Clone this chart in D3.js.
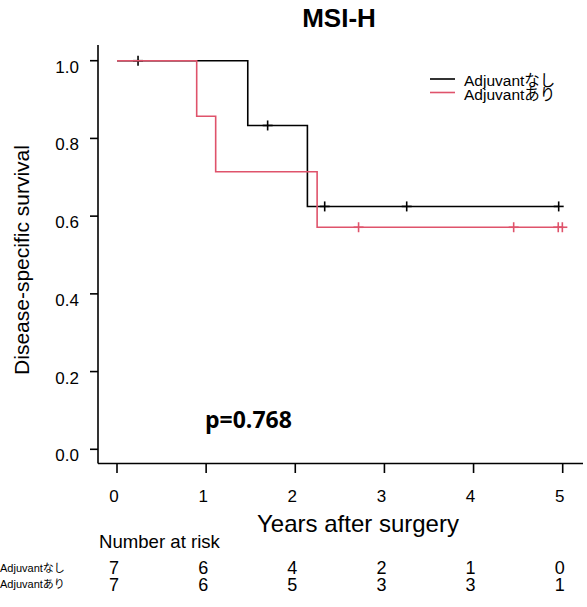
<!DOCTYPE html>
<html>
<head>
<meta charset="utf-8">
<script src="https://cdn.jsdelivr.net/npm/d3@7"></script>
<style>
  body { margin: 0; background: #fff; }
  svg { display: block; }
  text { font-family: "Liberation Sans", Arial, "Noto Sans CJK JP", sans-serif; fill: #000; }
</style>
</head>
<body>
<svg id="chart" width="587" height="607"></svg>
<script>
// groups
const groups = ["Adjuvantなし", "Adjuvantあり"];
const colors = ["#000000", "#DF536B"];

// follow-up times (years) and status (1 = death, 0 = censored)
const timesNashi = [0.236, 1.467, 1.69, 2.136, 2.33, 3.25, 4.955];
const statusNashi = [0, 1, 0, 1, 0, 0, 0];
const timesAri = [0.894, 1.107, 2.245, 2.71, 4.45, 4.95, 4.996];
const statusAri = [1, 1, 1, 0, 0, 0, 0];

// axis ticks
const xTicks = [0, 1, 2, 3, 4, 5];
const yTicks = [0, 0.2, 0.4, 0.6, 0.8, 1.0];

// number at risk
const riskNashi = [7, 6, 4, 2, 1, 0];
const riskAri = [7, 6, 5, 3, 3, 1];

const pText = "p=0.768";

const svg = d3.select("#chart");

const x = d3.scaleLinear().domain([0, 5]).range([117, 562.7]);
const y = d3.scaleLinear().domain([0, 1]).range([449.3, 60.7]);

// Kaplan-Meier estimate
function km(times, status) {
  const n = times.length;
  let s = 1, atRisk = n;
  const steps = [{ t: 0, s: 1 }];
  const cens = [];
  const idx = d3.range(n).sort((a, b) => times[a] - times[b]);
  idx.forEach(i => {
    if (status[i] === 1) {
      s = s * (atRisk - 1) / atRisk;
      steps.push({ t: times[i], s: s });
    } else {
      cens.push({ t: times[i], s: s });
    }
    atRisk--;
  });
  steps.push({ t: d3.max(times), s: s });
  return { steps, cens };
}

const fits = [km(timesNashi, statusNashi), km(timesAri, statusAri)];

// frame (bty = "l")
svg.append("line")
  .attr("x1", 98).attr("x2", 98).attr("y1", 45).attr("y2", 463.5)
  .attr("stroke", "#000").attr("stroke-width", 1.6);
svg.append("line")
  .attr("x1", 98).attr("x2", 583).attr("y1", 463.5).attr("y2", 463.5)
  .attr("stroke", "#000").attr("stroke-width", 1.6);

// y axis
const yAxis = svg.append("g").attr("class", "y axis");
yTicks.forEach(v => {
  yAxis.append("line")
    .attr("x1", 90).attr("x2", 98).attr("y1", y(v)).attr("y2", y(v))
    .attr("stroke", "#000").attr("stroke-width", 1.6);
  yAxis.append("text")
    .attr("x", 79).attr("y", y(v) + 12)
    .attr("text-anchor", "end")
    .style("font-size", "17px")
    .text(v.toFixed(1));
});

// x axis
const xAxis = svg.append("g").attr("class", "x axis");
xTicks.forEach(v => {
  xAxis.append("line")
    .attr("x1", x(v)).attr("x2", x(v)).attr("y1", 463.5).attr("y2", 473)
    .attr("stroke", "#000").attr("stroke-width", 1.6);
  xAxis.append("text")
    .attr("x", x(v) - 3).attr("y", 502)
    .attr("text-anchor", "middle")
    .style("font-size", "17px")
    .text(v);
});

// survival curves
const line = d3.line()
  .x(d => x(d.t))
  .y(d => y(d.s))
  .curve(d3.curveStepAfter);

fits.forEach((f, i) => {
  svg.append("path")
    .datum(f.steps)
    .attr("fill", "none")
    .attr("stroke", colors[i])
    .attr("stroke-width", 1.6)
    .attr("d", line);

  const g = svg.append("g");
  f.cens.forEach(c => {
    g.append("line")
      .attr("x1", x(c.t)).attr("x2", x(c.t))
      .attr("y1", y(c.s) - 5).attr("y2", y(c.s) + 5)
      .attr("stroke", colors[i]).attr("stroke-width", 1.6);
    g.append("line")
      .attr("x1", x(c.t) - 5).attr("x2", x(c.t) + 5)
      .attr("y1", y(c.s)).attr("y2", y(c.s))
      .attr("stroke", colors[i]).attr("stroke-width", 1.6);
  });
});

// legend
groups.forEach((name, i) => {
  const ly = [79, 92.5][i];
  svg.append("line")
    .attr("x1", 430).attr("x2", 455).attr("y1", ly).attr("y2", ly)
    .attr("stroke", colors[i]).attr("stroke-width", 1.6);
  svg.append("text")
    .attr("x", 464).attr("y", [86, 100][i])
    .style("font-size", "15.5px")
    .text(name);
});

// title
svg.append("text")
  .attr("x", 339).attr("y", 27)
  .attr("text-anchor", "middle")
  .style("font-size", "26px")
  .style("font-weight", "bold")
  .text("MSI-H");

// axis labels
svg.append("text")
  .attr("transform", "translate(29,260) rotate(-90)")
  .attr("text-anchor", "middle")
  .style("font-size", "21px")
  .text("Disease-specific  survival");

svg.append("text")
  .attr("x", 358).attr("y", 532)
  .attr("text-anchor", "middle")
  .style("font-size", "24px")
  .text("Years after surgery");

// p value
svg.append("text")
  .attr("x", 205).attr("y", 428)
  .style("font-family", "'Open Sans', sans-serif")
  .style("font-size", "23px")
  .style("font-weight", "bold")
  .text(pText);

// number at risk table
svg.append("text")
  .attr("x", 99).attr("y", 548)
  .style("font-size", "18.6px")
  .text("Number at risk");

[riskNashi, riskAri].forEach((row, i) => {
  svg.append("text")
    .attr("x", 0).attr("y", [572, 588][i])
    .style("font-size", "11px")
    .text(groups[i]);
  row.forEach((n, j) => {
    svg.append("text")
      .attr("x", x(xTicks[j]) - 3).attr("y", [574, 591][i])
      .attr("text-anchor", "middle")
      .style("font-size", "18px")
      .text(n);
  });
});
</script>
</body>
</html>
